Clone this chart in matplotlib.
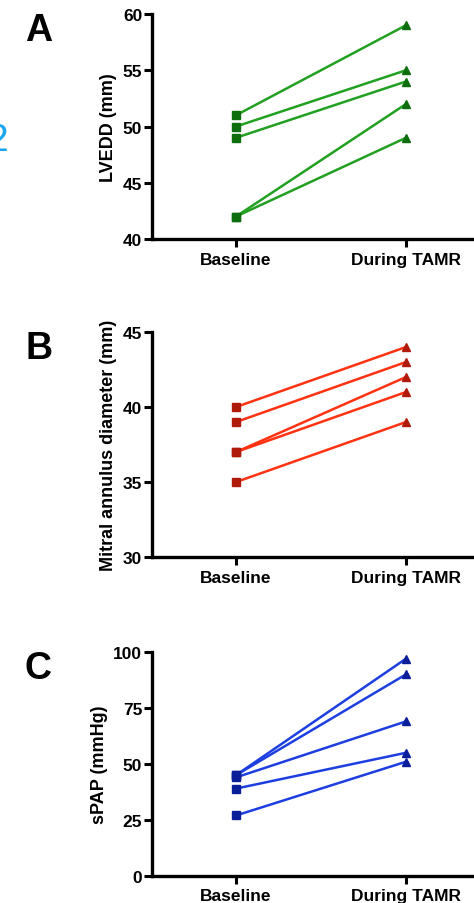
import numpy as np
import matplotlib.pyplot as plt

plt.rcParams['font.family'] = ['Liberation Sans', 'DejaVu Sans']
plt.rcParams['font.weight'] = 'bold'

groups = ['Baseline', 'During TAMR']

# panel A - LVEDD
lvedd_base = [51, 50, 49, 42, 42]
lvedd_tamr = [59, 55, 54, 52, 49]

# panel B - mitral annulus diameter
mad_base = [40, 39, 37, 37, 35]
mad_tamr = [44, 43, 42, 41, 39]

# panel C - sPAP
spap_base = [45, 45, 44, 39, 27]
spap_tamr = [97, 90, 69, 55, 51]

panels = [
    ('A', lvedd_base, lvedd_tamr, 'LVEDD (mm)', (40, 60), [40, 45, 50, 55, 60],
     '#22a022', '#0e6e0e', [0.9834, 0.7345]),
    ('B', mad_base, mad_tamr, 'Mitral annulus diameter (mm)', (30, 45), [30, 35, 40, 45],
     '#ff3212', '#b01a0a', [0.6316, 0.3827]),
    ('C', spap_base, spap_tamr, 'sPAP (mmHg)', (0, 100), [0, 25, 50, 75, 100],
     '#1e3fe0', '#0a1e9a', [0.2777, 0.0299]),
]

fig = plt.figure(figsize=(4.74, 9.04), dpi=100)
x = np.arange(len(groups))

for letter, base, tamr, ylab, ylim, yt, lc, mc, (top, bot) in panels:
    ax = fig.add_axes([152 / 474, bot, 1 - 152 / 474, top - bot])
    for b, t in zip(base, tamr):
        ax.plot(x, [b, t], color=lc, lw=1.8, zorder=2)
        ax.plot(x[0], b, 's', color=mc, ms=6, zorder=3)
        ax.plot(x[1], t, '^', color=mc, ms=6, zorder=3)
    ax.set_xlim(-0.494, 1.4)
    ax.set_ylim(*ylim)
    ax.set_yticks(yt)
    ax.set_xticks(x)
    ax.set_xticklabels(groups, fontsize=12.5, fontweight='bold')
    ax.tick_params(axis='y', labelsize=12.5, width=2.2, length=6, pad=1)
    ax.tick_params(axis='x', width=2.2, length=6, pad=3)
    ax.set_ylabel(ylab, fontsize=13, fontweight='bold', labelpad=4)
    for s in ['top', 'right']:
        ax.spines[s].set_visible(False)
    for s in ['left', 'bottom']:
        ax.spines[s].set_linewidth(2.4)
    for lab in ax.get_yticklabels():
        lab.set_fontweight('bold')
    fig.text(25 / 474, top + 2 / 904, letter, fontsize=27, fontweight='bold',
             ha='left', va='top')

# partially visible figure number at the left edge
fig.text(9 / 474, 1 - 151 / 904, '2', fontsize=28, color='#1ca6ee',
         ha='right', va='baseline', fontweight='normal')

fig.savefig('out.png', dpi=100)
